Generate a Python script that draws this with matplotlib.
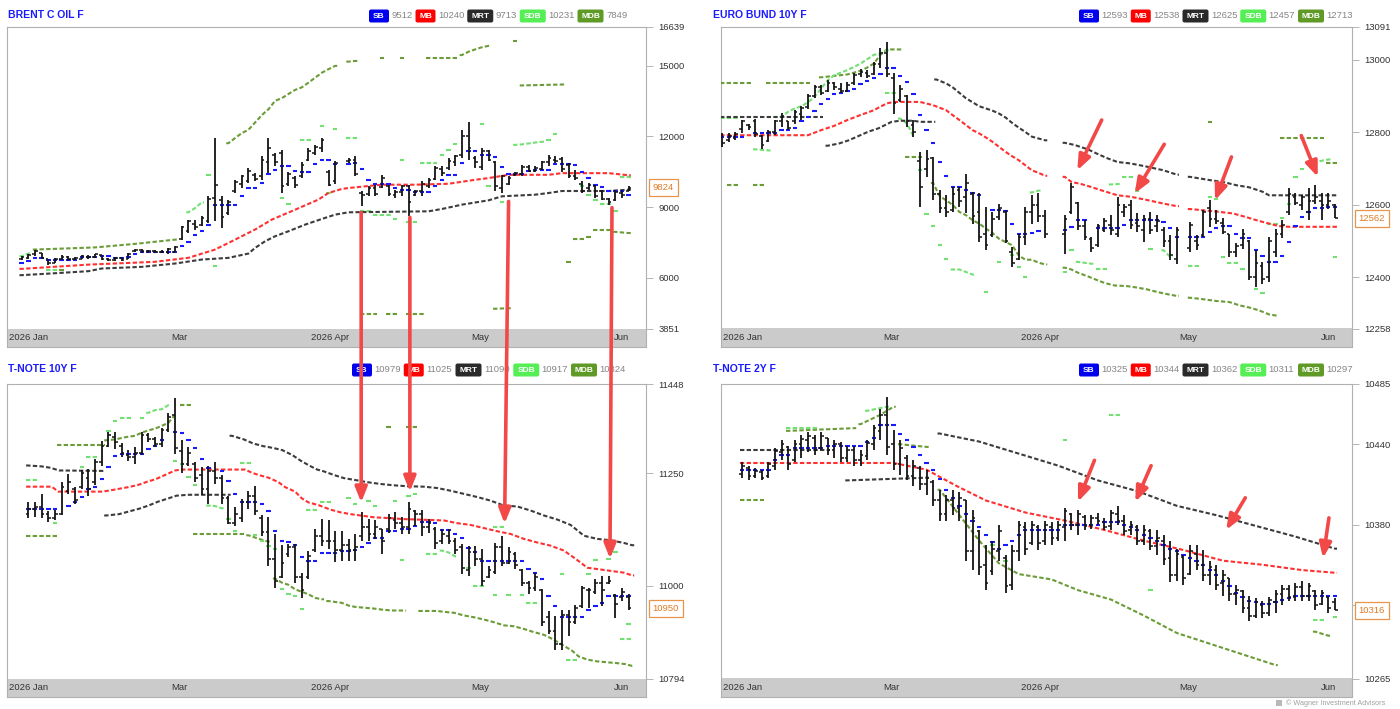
import numpy as np
import matplotlib.pyplot as plt
from matplotlib.patches import ConnectionPatch, FancyBboxPatch, Rectangle

nan = np.nan

months = ["2026 Jan", "Mar", "2026 Apr", "May", "Jun"]
month_slots = [1.1, 23.7, 46.2, 68.7, 90.0]
legend_names = ["SB", "MB", "MRT", "SDB", "MDB"]

# ---------------- BRENT C OIL F (slots 0..91) ----------------
brent_open = [6800, 6850, 7000, 7050, 6780, 6650, 6800, 6900, 6780, 6820,
              6900, 6880, 6950, 6800, 6760, 6850, 6800, 7120, 7180, 7120,
              7150, 7100, 7080, 7100, 7650, 8000, 8300, 8250, 8400, 9400,
              9300, 8750, 9700, 10000, 10100, 10350, 10300, 10900, 11200, 11300,
              10000, 10250, 10300, 11000, 11300, 11500, 10500, 10100, nan, 10950,
              11000, 9600, 9550, 9800, 9850, 9900, 9500, 9650, 9900, 9500,
              9700, 9900, 10200, 10600, 10650, 10900, 11200, 12000, 11100, 10700,
              11400, 10900, 9800, 10000, 10350, 10400, 10700, 10550, 10600, 10900,
              11000, 11050, 10800, 10300, 10000, 9800, 9900, 9700, 9350, 9300,
              9600, 9700]
brent_high = [6920, 7030, 7200, 7060, 6800, 6850, 6950, 6920, 6890, 6950,
              6970, 7030, 6970, 6860, 6890, 6890, 7060, 7230, 7230, 7200,
              7200, 7200, 7270, 7340, 8190, 8470, 8470, 8610, 9460, 11930,
              9460, 9310, 10160, 10370, 10660, 10440, 11150, 11930, 11290, 11430,
              10510, 10300, 10900, 11500, 11640, 11930, 10590, 10940, nan, 11080,
              11150, 9670, 9880, 9950, 10370, 9950, 9710, 9950, 9950, 9740,
              10090, 10230, 10730, 10730, 11080, 11220, 12280, 12630, 11150, 11500,
              11430, 10940, 10370, 10300, 10510, 10800, 10800, 10730, 10940, 11220,
              11150, 11110, 10870, 10590, 10090, 10020, 9950, 9740, 9390, 9740,
              9740, 9880]
brent_low = [6750, 6780, 6920, 6780, 6560, 6630, 6750, 6700, 6750, 6780,
             6800, 6830, 6750, 6710, 6710, 6710, 6780, 7090, 7060, 7060,
             7060, 7050, 7030, 7090, 7620, 7900, 8050, 8190, 8330, 8400,
             8120, 8680, 9600, 9810, 10020, 10090, 10160, 10440, 10730, 9600,
             9880, 9810, 10230, 10940, 11220, 11320, 9880, 9990, nan, 10870,
             10300, 9040, 9460, 9460, 9810, 9460, 9390, 9460, 8610, 9460,
             9460, 9810, 10160, 10300, 10590, 10730, 11080, 11010, 10660, 10590,
             10940, 9670, 9600, 9950, 10300, 10300, 10510, 10510, 10590, 10730,
             10870, 10510, 10230, 10160, 9600, 9740, 9390, 9290, 9100, 9250,
             9390, 9670]
brent_close = [6880, 6980, 7120, 6850, 6620, 6820, 6900, 6780, 6850, 6920,
               6880, 6990, 6800, 6760, 6850, 6760, 7020, 7180, 7120, 7150,
               7100, 7090, 7230, 7300, 8150, 8400, 8150, 8550, 9350, 9950,
               8600, 9200, 10050, 10300, 10550, 10200, 11000, 11500, 10900, 9900,
               10400, 9950, 10800, 11400, 11550, 11850, 9950, 10850, nan, 11000,
               10400, 9500, 9800, 9550, 10250, 9550, 9650, 9900, 9200, 9700,
               10000, 10150, 10650, 10450, 10950, 11150, 12000, 11500, 10900, 11400,
               11000, 9900, 10300, 10250, 10450, 10700, 10550, 10650, 10900, 11100,
               10950, 10600, 10300, 10250, 9700, 9950, 9450, 9350, 9200, 9650,
               9500, 9824]
brent_sb = [6635, 6734, 6847, 6847, 6776, 6776, 6776, 6776, 6776, 6889,
            6889, 6889, 6917, 6917, 6847, 6847, 6875, 7030, 7087, 7087,
            7087, 7087, 7087, 7087, 7340, 7538, 7835, 8004, 8258, 9104,
            9104, 9104, 9104, 9457, 9810, 9810, 10021, 10417, 10586, 10755,
            10755, 10544, 10487, 10487, 10826, 11009, 11009, 10840, nan, 10840,
            10868, 10614, 10162, 9993, 9993, 9993, 9810, 9711, 9711, 9626,
            9626, 9626, 9880, 10162, 10346, 10346, 10868, 11362, 11362, 11221,
            11221, 11122, 10685, 10417, 10417, 10417, 10515, 10586, 10586, 10586,
            10840, 10840, 10840, 10769, 10473, 10233, 9951, 9852, 9697, 9697,
            9697, 9527]
brent_mb = [[(0, 6380), (10, 6560), (20, 6680), (25, 6850), (29, 7200), (32, 7620),
             (35, 8050), (37.5, 8470), (41, 8890), (44.5, 9320), (46, 9600), (48, 9770),
             (49, 9810), (54, 9950), (59, 9950), (64, 9990), (68, 10160), (70, 10230),
             (73, 10370), (79, 10370), (81, 10440), (88, 10440), (91, 10350)]]
brent_mrt = [[(0, 6113), (6, 6212), (10, 6282), (12, 6395), (18, 6466), (23, 6607),
              (27, 6776), (31, 6847), (34, 7030), (35, 7270), (36.5, 7552), (38, 7764),
              (40, 7976), (42.5, 8258), (45, 8497), (47, 8681), (49, 8780), (61, 8822),
              (63, 8920), (66, 9104), (70, 9288), (72, 9457), (77, 9527), (79, 9598),
              (81, 9683), (88, 9683), (91, 9739)]]
brent_sdb = [[(0, 6920), (1, 7030)], [(4, 6350), (5, 6350)],
             [(25, 8780), (26, 8960), (27, 9200)], [(28, 10370)], [(29, 6520)],
             [(39, 9390)], [(40, 9150)], [(42, 11860), (43, 11860)],
             [(45, 12450)], [(46, 9600)], [(47, 12310)],
             [(49, 11920), (50, 11920)], [(51, 8820), (52, 8820)],
             [(53, 8650), (54, 8650), (55, 8650)], [(56, 8500)], [(57, 11010)],
             [(58, 8360), (59, 8360)], [(60, 10870), (61, 10870), (62, 10870)],
             [(63, 11190)], [(64, 11430)], [(65, 11690)],
             [(69, 12530)], [(70, 9910)], [(72, 9220)],
             [(74, 11640), (75, 11660), (76, 11700), (77, 11740), (78, 11770)],
             [(79, 11860)], [(80, 12110)],
             [(84, 9880)], [(85, 9500)], [(86, 9320)], [(87, 9150), (88, 9150)],
             [(89, 8820)], [(90, 10260), (91, 10260)]]
brent_mdb = [[(2, 7200), (11, 7290), (17, 7440), (23, 7620)], [(6, 6320)],
             [(31, 11710), (32, 11930), (33, 12140), (34, 12280), (35, 12590),
              (36, 12900), (37, 13150), (38, 13510), (39, 13620), (40, 13800),
              (41, 13970), (42, 14080), (43, 14280), (44, 14490), (45, 14700),
              (46, 14850), (47, 14990)],
             [(49, 15170), (50, 15200)], [(54, 15310)], [(57, 15310)],
             [(61, 15310), (65, 15310)],
             [(66, 15450), (67, 15590), (68, 15690), (69, 15780), (70, 15840)],
             [(74, 16060)], [(75, 14160), (81, 14200)],
             [(51, 4480), (53, 4480)], [(55, 4480), (56, 4480)], [(58, 4480), (60, 4480)],
             [(71, 4690), (73, 4710)], [(82, 6680)], [(83, 7650), (84, 7650)],
             [(85, 7750)], [(86, 8020), (88, 8020)], [(89, 7950), (91, 7900)]]
brent_ticks = [3851, 6000, 9000, 12000, 15000, 16639]
brent_legend = ["9512", "10240", "9713", "10231", "7849"]

# ---------------- EURO BUND 10Y F (slots -2..91) ----------------
bund_open = [12790, 12780, 12785, 12810, 12820, 12830, 12790, 12775, 12800, 12830,
             12830, 12830, 12850, 12870, 12900, 12925, 12915, 12935, 12920, 12915,
             12935, 12960, 12965, 12960, 12990, 13020, 12950, 12890, 12900, 12820,
             12720, 12700, 12730, 12630, 12590, 12585, 12640, 12620, 12630, 12580,
             12520, 12515, 12565, 12580, 12470, 12450, 12510, 12580, 12600, 12570,
             nan, nan, 12520, 12580, 12605, 12540, 12505, 12490, 12530, 12545,
             12520, 12580, 12600, 12550, 12530, 12560, 12540, 12530, 12500, 12450,
             nan, 12480, 12500, 12515, 12590, 12560, 12550, 12520, 12470, 12490,
             12500, 12400, 12430, 12400, 12470, 12520, 12580, 12620, 12600, 12580,
             12610, 12610, 12600, 12600]
bund_high = [12797, 12797, 12802, 12834, 12824, 12836, 12792, 12806, 12834, 12854,
             12832, 12861, 12872, 12906, 12931, 12931, 12944, 12940, 12935, 12940,
             12963, 12974, 12972, 12995, 13032, 13050, 12963, 12931, 12903, 12834,
             12746, 12751, 12732, 12640, 12626, 12649, 12649, 12684, 12635, 12631,
             12594, 12580, 12603, 12585, 12483, 12520, 12594, 12626, 12631, 12585,
             nan, nan, 12571, 12659, 12608, 12557, 12511, 12548, 12562, 12571,
             12622, 12603, 12613, 12576, 12571, 12580, 12571, 12539, 12516, 12539,
             nan, 12553, 12516, 12585, 12613, 12585, 12562, 12520, 12493, 12534,
             12502, 12474, 12442, 12511, 12534, 12557, 12645, 12631, 12626, 12645,
             12654, 12631, 12631, 12603]
bund_low = [12760, 12774, 12779, 12797, 12806, 12788, 12755, 12774, 12792, 12815,
            12806, 12824, 12834, 12864, 12894, 12903, 12912, 12917, 12908, 12912,
            12931, 12953, 12949, 12958, 12977, 12954, 12852, 12885, 12815, 12788,
            12594, 12677, 12612, 12576, 12566, 12580, 12594, 12576, 12548, 12497,
            12474, 12511, 12557, 12493, 12428, 12447, 12488, 12548, 12553, 12507,
            nan, nan, 12465, 12575, 12530, 12502, 12470, 12483, 12525, 12516,
            12511, 12566, 12534, 12525, 12497, 12520, 12525, 12483, 12447, 12437,
            nan, 12470, 12474, 12511, 12539, 12548, 12520, 12456, 12456, 12479,
            12391, 12373, 12382, 12387, 12456, 12507, 12571, 12599, 12585, 12557,
            12603, 12557, 12589, 12562]
bund_close = [12770, 12790, 12795, 12830, 12815, 12795, 12765, 12800, 12830, 12845,
              12812, 12855, 12868, 12900, 12925, 12910, 12935, 12925, 12915, 12930,
              12958, 12968, 12955, 12990, 13020, 12960, 12880, 12920, 12830, 12800,
              12650, 12725, 12630, 12590, 12580, 12630, 12610, 12660, 12570, 12510,
              12490, 12560, 12590, 12500, 12440, 12510, 12580, 12600, 12570, 12520,
              nan, nan, 12560, 12650, 12540, 12510, 12480, 12540, 12555, 12530,
              12600, 12595, 12545, 12540, 12560, 12530, 12555, 12500, 12460, 12530,
              nan, 12545, 12490, 12580, 12560, 12555, 12525, 12470, 12485, 12520,
              12400, 12440, 12395, 12500, 12520, 12545, 12630, 12605, 12620, 12610,
              12620, 12600, 12610, 12562]
bund_sb = [12788, 12788, 12788, 12788, nan, 12799, 12799, 12797, 12797, 12806,
           12806, 12811, 12832, 12841, 12860, 12878, 12892, 12905, 12909, 12914,
           12921, 12933, 12943, 12949, 12960, 12977, 12977, 12955, 12938, 12905,
           12848, 12806, 12771, 12719, 12679, 12649, 12649, 12642, 12631, 12628,
           nan, 12585, 12585, 12582, 12546, 12518, 12518, 12522, 12527, nan,
           nan, nan, 12530, 12539, 12557, 12557, nan, 12537, 12537, 12537,
           12537, 12543, 12557, 12557, 12557, 12557, 12557, 12553, 12536, 12511,
           nan, 12511, 12511, 12511, 12525, 12537, 12540, 12540, 12520, 12508,
           12507, 12474, 12459, 12442, 12442, 12458, 12497, 12540, 12566, 12580,
           12592, 12592, 12594, 12594]
bund_mb = [[(-2, 12792), (11, 12792), (13, 12806), (15, 12818), (17, 12834), (19, 12848),
            (21, 12861), (22, 12871), (23, 12880), (24, 12884), (28, 12884), (30, 12875),
            (32, 12861), (33, 12847), (34, 12834), (35, 12820), (36, 12806), (37, 12797),
            (38, 12786), (39, 12774), (40, 12760), (41, 12746), (42, 12734), (43, 12723),
            (44, 12709), (45, 12695), (46, 12688), (47, 12680)],
           [(50, 12677), (51, 12663), (52.5, 12657), (54, 12649), (55.5, 12640), (58, 12626),
            (60, 12622), (62.5, 12613), (65, 12603), (67, 12596)],
           [(69, 12588), (72, 12583), (73.5, 12580), (75.5, 12576), (77.5, 12566),
            (79.5, 12555), (81, 12548), (82.5, 12541), (84, 12539), (91, 12539)]]
bund_mrt = [[(-2, 12843), (13, 12843)],
            [(14, 12763), (15.7, 12769), (17.2, 12778), (18.7, 12790), (20.2, 12802),
             (21.7, 12811), (22.7, 12820), (23.7, 12829), (25, 12832), (27, 12832),
             (28, 12829), (30, 12829)],
            [(30.5, 12946), (32, 12935), (33, 12924), (34, 12909), (35, 12894), (36, 12883),
             (37, 12872), (38, 12866), (39, 12860), (40, 12852), (41, 12841), (42, 12826),
             (43, 12813), (44, 12801), (45, 12788), (46, 12783), (47, 12778)],
            [(50, 12771), (51.5, 12765), (53.5, 12753), (55, 12740), (56.5, 12728), (58, 12718),
             (60, 12714), (62.5, 12705), (65, 12695), (67, 12683)],
            [(69, 12677), (72, 12668), (74, 12663), (76, 12654), (78, 12648), (80, 12636),
             (81, 12626), (91, 12626)]]
bund_sdb = [[(-2, 12840), (0, 12840)], [(3, 12753), (5, 12750)],
            [(7, 12843), (8, 12857), (9, 12866), (10, 12872), (11, 12883), (12, 12898),
             (13, 12921), (14, 12944), (15, 12958), (17, 12972), (18, 12981), (19, 12990),
             (20, 13002), (21, 13014), (22, 13018), (23, 13027)],
            [(23, 12909), (24, 12909)], [(25, 12838), (26, 12825), (27, 12790)],
            [(28, 12697)], [(29, 12574)], [(30, 12541)], [(31, 12488)], [(32, 12449)],
            [(33, 12421), (34, 12421), (35, 12414), (36, 12407)],
            [(38, 12359)], [(40, 12442)], [(42, 12462)], [(43, 12428)], [(44, 12400)],
            [(45, 12634), (46, 12639)],
            [(50, 12414)], [(51, 12474)], [(52, 12442), (54, 12437)], [(55, 12423), (56, 12423)],
            [(57, 12656), (58, 12657)], [(59, 12677), (60, 12677)], [(61, 12638)],
            [(63, 12479)], [(65, 12474), (66, 12456)],
            [(69, 12432), (70, 12432)], [(72, 12622)], [(73, 12617)],
            [(74, 12456)], [(75, 12438), (76, 12438)], [(77, 12423)],
            [(79, 12368)], [(80, 12355)],
            [(81, 12548), (82, 12548)], [(83, 12562)], [(84, 12603)], [(85, 12677)],
            [(86, 12700)], [(88, 12718), (90, 12725)], [(91, 12456)]]
bund_mdb = [[(-2, 12935), (2, 12935)], [(5, 12935), (11, 12935)],
            [(13, 12952), (15, 12956), (17, 12960), (18, 12965), (19, 12970), (20, 12979),
             (21, 12990), (22, 13014), (23, 13029), (25, 13029)],
            [(-1, 12654), (0, 12654)], [(3, 12654), (4, 12654)],
            [(26, 12732), (28, 12732)],
            [(30, 12660), (31, 12624), (32, 12612), (33, 12599), (34, 12580), (35, 12571),
             (36, 12557), (37, 12548), (38, 12534), (39, 12522), (40, 12506), (41, 12497),
             (42, 12488), (43, 12460), (44, 12448), (45, 12448), (46, 12440), (47, 12435)],
            [(50, 12426), (51, 12421), (52, 12412), (53.5, 12402), (55, 12391), (56, 12384),
             (57.5, 12377), (59.5, 12375), (61, 12371), (62.5, 12366), (64, 12359),
             (65.5, 12353), (67, 12348)],
            [(69, 12343), (70.5, 12340), (73, 12334), (75, 12331), (76.5, 12322), (78, 12316),
             (79.5, 12308), (81, 12297), (82, 12294)],
            [(72, 12829)], [(83, 12783), (89, 12783)], [(90, 12714), (91, 12714)]]
bund_ticks = [12258, 12400, 12600, 12800, 13000, 13091]
bund_legend = ["12593", "12538", "12625", "12457", "12713"]

# ---------------- T-NOTE 10Y F (slots 0..91) ----------------
tn10_open = [nan, 11160, 11170, 11175, 11160, 11150, 11160, 11210, 11215, 11220,
             11240, 11230, 11275, 11310, 11330, 11310, 11290, 11285, 11295, 11335,
             11325, 11315, 11345, 11380, 11300, 11270, 11270, 11245, 11215, 11255,
             11240, 11195, 11140, 11150, 11185, 11200, 11150, 11120, 11060, 11020,
             11070, 11085, 11020, 11020, 11080, 11110, 11100, 11100, 11080, 11090,
             11080, 11110, 11130, 11115, 11125, 11125, 11145, 11140, 11130, 11165,
             11160, 11130, 11125, 11100, 11110, 11100, 11085, 11035, 11075, 11060,
             11020, 11030, 11085, 11050, 11070, 11035, 11005, 10995, 10990, 10930,
             10900, 10870, 10935, 10920, 10955, 10990, 10985, 11005, 11005, 10980,
             10975, 10975]
tn10_high = [nan, 11185, 11185, 11204, 11167, 11169, 11230, 11249, 11219, 11256,
             11260, 11282, 11321, 11342, 11342, 11316, 11302, 11308, 11342, 11340,
             11331, 11351, 11383, 11418, 11323, 11307, 11275, 11264, 11267, 11275,
             11245, 11200, 11174, 11193, 11211, 11221, 11156, 11152, 11115, 11090,
             11092, 11092, 11029, 11078, 11126, 11148, 11145, 11122, 11122, 11104,
             11115, 11163, 11148, 11145, 11126, 11159, 11163, 11152, 11185, 11169,
             11169, 11148, 11130, 11126, 11126, 11107, 11092, 11089, 11089, 11081,
             11044, 11096, 11111, 11085, 11074, 11037, 11011, 11029, 10992, 10944,
             10932, 10947, 10946, 10958, 11000, 10996, 11014, 11022, 11022, 10981,
             10996, 10981]
tn10_low = [nan, 11150, 11152, 11150, 11141, 11146, 11157, 11204, 11182, 11215,
            11200, 11223, 11266, 11308, 11304, 11286, 11276, 11271, 11290, 11319,
            11308, 11308, 11342, 11293, 11251, 11267, 11230, 11202, 11182, 11226,
            11182, 11137, 11133, 11141, 11171, 11156, 11111, 11044, 10996, 11018,
            11063, 11007, 10973, 11014, 11074, 11089, 11081, 11052, 11055, 11055,
            11055, 11100, 11100, 11104, 11070, 11118, 11126, 11115, 11115, 11133,
            11111, 11118, 11081, 11092, 11092, 11070, 11025, 11022, 11044, 11000,
            11018, 11025, 11044, 11048, 11037, 11000, 10981, 10988, 10910, 10892,
            10858, 10858, 10888, 10914, 10951, 10951, 10981, 10955, 11003, 10929,
            10966, 10946]
tn10_close = [nan, 11170, 11175, 11160, 11150, 11160, 11220, 11230, 11190, 11250,
              11215, 11275, 11310, 11335, 11320, 11295, 11285, 11295, 11335, 11325,
              11315, 11345, 11375, 11305, 11270, 11295, 11240, 11215, 11255, 11240,
              11195, 11140, 11160, 11185, 11200, 11165, 11120, 11060, 11010, 11050,
              11085, 11020, 10990, 11065, 11110, 11100, 11100, 11080, 11090, 11080,
              11085, 11130, 11115, 11130, 11100, 11150, 11140, 11130, 11170, 11160,
              11130, 11140, 11095, 11115, 11100, 11080, 11040, 11075, 11060, 11010,
              11035, 11085, 11050, 11075, 11045, 11005, 10995, 11020, 10920, 10900,
              10870, 10935, 10920, 10950, 10995, 10990, 11005, 10990, 11010, 10960,
              10985, 10950]
tn10_sb = [nan, 11171, 11171, 11171, 11171, 11171, nan, 11178, 11187, 11196,
           11215, 11219, 11236, 11264, 11287, 11292, 11293, 11293, 11293, 11304,
           11310, 11323, nan, 11342, 11340, 11323, 11306, 11281, 11261, nan,
           11254, 11232, 11204, 11186, 11186, 11186, 11182, 11166, 11122, 11100,
           11098, 11090, 11063, 11055, 11055, 11072, 11072, 11072, 11078, 11078,
           11080, 11087, 11096, 11106, 11106, 11121, 11121, 11126, 11127, 11133,
           11141, 11141, 11139, 11124, 11124, 11116, 11107, 11083, 11074, 11055,
           11055, 11055, 11055, 11055, 11055, 11055, 11038, 11029, 11014, 10977,
           10956, 10930, 10930, 10930, 10930, 10946, 10955, 10962, 10977, 10977,
           10977, 10977]
tn10_mb = [[(1, 11220), (4.5, 11220), (5.5, 11209), (12, 11209), (13, 11211), (14.5, 11215),
            (16, 11219), (17.5, 11224), (19, 11232), (20, 11236), (21.5, 11246), (23, 11256),
            (24, 11258), (33.5, 11258), (34.5, 11251), (35.5, 11246), (37, 11240),
            (38.5, 11230), (39.5, 11219), (41, 11209), (42, 11194), (43, 11185),
            (44.5, 11179), (46.3, 11169), (47.8, 11163), (49.3, 11159), (50.8, 11156),
            (52.8, 11152), (55.3, 11150), (57.3, 11148), (59.3, 11147), (63.3, 11145),
            (65.3, 11139), (67.3, 11135), (69.3, 11128), (71.3, 11121), (73.3, 11115),
            (75.3, 11104), (77.3, 11096), (79.3, 11089), (81.3, 11078), (83.3, 11057),
            (84.8, 11040), (86.3, 11037), (88.3, 11033), (90.3, 11029), (91.5, 11023)]]
tn10_mrt = [[(1, 11267), (3, 11265), (4.3, 11262), (5.6, 11256), (12.2, 11255)],
            [(12.7, 11156), (14.6, 11159), (16.1, 11165), (17.6, 11171), (19, 11178),
             (20.5, 11187), (22, 11194), (23.2, 11200), (25, 11202), (31, 11202)],
            [(31.5, 11333), (33.3, 11325), (34.7, 11316), (36.2, 11310), (37.7, 11306),
             (39.1, 11301), (40.6, 11290), (41.8, 11278), (43.1, 11267), (44.3, 11258),
             (45.3, 11254), (46.8, 11246), (48.3, 11239), (50.3, 11234), (51.8, 11230),
             (53.8, 11226), (55.8, 11223), (57.8, 11221), (60.3, 11220), (62.3, 11217),
             (64.3, 11211), (66.3, 11204), (68.3, 11197), (70.3, 11189), (72.3, 11178),
             (74.3, 11176), (76.3, 11167), (78.3, 11156), (80.3, 11147), (82.3, 11135),
             (84.3, 11111), (86.3, 11104), (88.3, 11101), (90.3, 11095), (91.5, 11090)]]
tn10_sdb = [[(1, 11234), (2, 11234)], [(5, 11139)], [(9, 11263)], [(10, 11286), (11, 11286)],
            [(13, 11343)], [(14, 11366)], [(15, 11373), (16, 11373)], [(18, 11373)],
            [(19, 11384), (20, 11390), (21, 11392), (22, 11401)],
            [(23, 11276)], [(24, 11270)], [(25, 11241)], [(26, 11224)],
            [(28, 11178), (29, 11177), (30, 11172)], [(31, 11148)], [(32, 11121)],
            [(33, 11273), (34, 11273)], [(35, 11113)], [(36, 11100)], [(37, 11089)],
            [(38, 11081)], [(39, 10993)], [(40, 10981)], [(41, 10977)], [(42, 10949)],
            [(43, 11169), (44, 11169)], [(45, 11185), (46, 11185)], [(49, 11194)],
            [(50, 11182)], [(52, 11189)], [(53, 11178)], [(56, 11189)], [(57, 11057)],
            [(58, 11200)], [(59, 11204)], [(61, 11070), (62, 11070)],
            [(63, 11078), (64, 11074), (65, 11065)], [(67, 11040)], [(68, 10999), (69, 10999)],
            [(71, 10979)], [(73, 10979)], [(75, 10979)], [(76, 10962), (77, 10962)],
            [(71, 11130), (72, 11130)], [(81, 11025)], [(85, 11025)], [(82, 10834), (83, 10834)],
            [(86, 11057)], [(88, 11059)], [(89, 11074)], [(90, 10882), (91, 10882)], [(91, 10914)]]
tn10_mdb = [[(1, 11111), (5, 11111)], [(5.6, 11313), (12.2, 11313)],
            [(12.7, 11323), (14, 11325), (15.6, 11330), (17, 11333), (18, 11340), (19, 11345),
             (20, 11349), (21, 11355), (22, 11362), (23, 11380)],
            [(24, 11401), (25, 11401)], [(26, 11116), (33, 11116)],
            [(34, 11112), (35, 11107), (36, 11102), (37, 11098)],
            [(38, 11016), (39, 11007), (40, 11002), (41, 10992), (43, 10981), (44, 10973), (45, 10970)],
            [(46, 10966), (48, 10962), (49, 10956), (50, 10953), (51.5, 10951), (53, 10949),
             (54, 10947), (55.5, 10945), (57.3, 10945)],
            [(59.8, 10944), (62.3, 10944), (63.3, 10942), (64.8, 10940), (66.3, 10934),
             (67.8, 10930), (69.3, 10925), (70.8, 10919), (72.3, 10912), (73.8, 10910),
             (75.3, 10904), (76.8, 10897), (78.3, 10891), (79.8, 10880), (81, 10869),
             (82.5, 10856), (83.5, 10843), (84.8, 10836), (86.3, 10832), (87.8, 10830),
             (89.3, 10828), (90.5, 10826), (91.5, 10822)],
            [(55, 11353)], [(58, 11353), (59, 11353)]]
tn10_ticks = [10794, 11000, 11250, 11448]
tn10_legend = ["10979", "11025", "11090", "10917", "10824"]

# ---------------- T-NOTE 2Y F (slots 0..91) ----------------
tn2_open = [nan, 10418, 10422, 10416, 10419, 10416, 10424, 10434, 10438, 10428,
            10440, 10443, 10445, 10437, 10445, 10436, 10440, 10430, 10436, 10428,
            10431, 10440, 10450, 10462, 10440, 10425, 10430, 10416, 10422, 10410,
            10412, 10398, 10388, 10398, 10392, 10398, 10360, 10375, 10350, 10345,
            10360, 10355, 10335, 10360, 10378, 10366, 10378, 10368, 10378, 10370,
            10378, 10388, 10380, 10386, 10380, 10385, 10382, 10379, 10388, 10383,
            10376, 10378, 10368, 10375, 10364, 10368, 10355, 10342, 10356, 10343,
            10358, 10350, 10342, 10346, 10336, 10340, 10328, 10330, 10318, 10312,
            10320, 10314, 10322, 10328, 10332, 10326, 10333, 10327, 10330, 10321,
            10326, 10322]
tn2_high = [nan, 10427, 10424, 10422, 10421, 10427, 10437, 10443, 10439, 10443,
            10447, 10449, 10447, 10449, 10445, 10443, 10442, 10439, 10439, 10436,
            10443, 10454, 10466, 10475, 10451, 10443, 10432, 10428, 10424, 10421,
            10413, 10406, 10402, 10406, 10404, 10398, 10391, 10376, 10365, 10368,
            10380, 10357, 10365, 10383, 10382, 10383, 10380, 10383, 10382, 10383,
            10392, 10389, 10391, 10387, 10387, 10389, 10385, 10391, 10394, 10387,
            10383, 10380, 10380, 10377, 10376, 10372, 10368, 10362, 10357, 10365,
            10365, 10361, 10353, 10350, 10346, 10340, 10335, 10331, 10327, 10325,
            10323, 10326, 10331, 10335, 10335, 10336, 10338, 10336, 10331, 10331,
            10327, 10325]
tn2_low = [nan, 10415, 10413, 10415, 10413, 10415, 10421, 10428, 10421, 10427,
           10430, 10434, 10432, 10436, 10432, 10430, 10427, 10427, 10424, 10424,
           10428, 10436, 10443, 10432, 10421, 10417, 10413, 10409, 10406, 10402,
           10394, 10383, 10383, 10387, 10383, 10353, 10346, 10342, 10331, 10342,
           10353, 10329, 10331, 10353, 10357, 10365, 10361, 10365, 10365, 10368,
           10368, 10376, 10372, 10376, 10377, 10380, 10376, 10376, 10380, 10372,
           10372, 10365, 10365, 10361, 10357, 10350, 10337, 10338, 10335, 10342,
           10346, 10338, 10335, 10331, 10327, 10323, 10320, 10314, 10308, 10310,
           10310, 10312, 10314, 10320, 10323, 10323, 10323, 10323, 10316, 10320,
           10314, 10316]
tn2_close = [nan, 10424, 10416, 10420, 10415, 10425, 10435, 10440, 10425, 10440,
             10444, 10446, 10436, 10446, 10436, 10440, 10430, 10436, 10428, 10432,
             10441, 10452, 10462, 10438, 10425, 10437, 10416, 10424, 10410, 10415,
             10398, 10388, 10398, 10392, 10400, 10360, 10385, 10348, 10336, 10362,
             10375, 10334, 10360, 10380, 10362, 10380, 10366, 10380, 10370, 10380,
             10390, 10380, 10388, 10379, 10385, 10383, 10378, 10389, 10383, 10375,
             10380, 10368, 10376, 10364, 10370, 10354, 10342, 10358, 10340, 10360,
             10350, 10342, 10348, 10335, 10342, 10328, 10331, 10318, 10312, 10322,
             10314, 10324, 10328, 10332, 10326, 10333, 10327, 10334, 10320, 10329,
             10318, 10316]
tn2_sb = [nan, 10421, 10421, 10421, 10421, 10421, 10428, 10432, 10432, 10437,
          10437, 10437, 10437, 10437, 10439, 10439, 10439, 10439, 10439, 10439,
          10442, 10445, 10454, 10454, 10454, 10448, 10443, 10438, 10432, 10426,
          10421, 10414, 10406, 10400, 10394, 10388, 10383, 10378, 10372, 10367,
          10362, 10365, 10368, 10372, 10376, 10376, 10376, 10376, 10376, 10376,
          10380, 10380, 10380, 10380, 10380, 10380, 10382, 10382, 10382, 10380,
          10378, 10376, 10372, 10370, 10368, 10365, 10362, 10360, 10357, 10355,
          10353, 10350, 10346, 10342, 10338, 10334, 10329, 10326, 10323, 10322,
          10321, 10321, 10322, 10324, 10325, 10327, 10327, 10327, 10327, 10327,
          10327, 10327]
tn2_mb = [[(1, 10426), (24, 10426), (29, 10421), (33.5, 10409), (38, 10398), (44, 10389),
           (50, 10383), (56, 10376), (62, 10368), (68, 10361), (74, 10353), (80, 10350),
           (86, 10346), (91, 10344)]]
tn2_mrt = [[(1, 10436), (14, 10436)], [(17, 10413), (29, 10415)],
           [(31, 10448), (37, 10442), (43, 10433), (49, 10424), (55, 10413), (61, 10405),
            (67, 10394), (73, 10387), (79, 10379), (85, 10371), (91, 10362)]]
tn2_sdb = [[(8, 10452), (12, 10452)], [(20, 10465), (23, 10468)], [(39, 10365)], [(41, 10353)],
           [(50, 10443)], [(57, 10462), (58, 10462)], [(63, 10331)], [(88, 10309), (89, 10309)],
           [(91, 10311)]]
tn2_mdb = [[(1, 10398), (4, 10398)], [(8, 10450), (18, 10452)],
           [(19, 10455), (22, 10462), (24, 10468)], [(25, 10440), (29, 10438)],
           [(31, 10406), (34, 10387), (37, 10368), (40, 10351), (43, 10343), (48, 10339),
            (52, 10331), (57, 10324), (62, 10312), (67, 10299), (72, 10291), (77, 10283),
            (82, 10275)],
           [(88, 10300), (90, 10297)]]
tn2_ticks = [10265, 10320, 10380, 10440, 10485]
tn2_legend = ["10325", "10344", "10362", "10311", "10297"]

# red arrow annotations: (slot, value) tail -> head
long_arrows = [(50.9, 8776, 50.9, 11185), (58.2, 8565, 58.2, 11209),
               (73.0, 9242, 72.4, 11138), (88.5, 8975, 88.2, 11060)]
bund_arrows = [(55.6, 12834, 51.9, 12695), (65.1, 12767, 60.6, 12631),
               (75.3, 12732, 72.8, 12612), (85.9, 12791, 88.4, 12677)]
tn2_arrows = [(54.5, 10428, 52.0, 10397), (63.1, 10424, 60.7, 10397),
              (77.4, 10400, 74.5, 10376), (90.1, 10385, 89.2, 10355)]

# ---------------- styling ----------------
SB_C, MB_C, MRT_C, SDB_C, MDB_C = '#1a1aff', '#ff3030', '#3c3c3c', '#72e072', '#6b9c38'
BADGE_C = ['#0000ee', '#ff0000', '#2a2a2a', '#55ee55', '#5f9a26']
BAR_C = '#141414'
ARROW_C = '#f24848'

plt.rcParams['font.family'] = ['Liberation Sans', 'DejaVu Sans']
W, H = 1400, 709
fig = plt.figure(figsize=(W / 100, H / 100), dpi=100)

panels = [
    dict(title="BRENT C OIL F", box=(7, 27, 646, 347), start=0, o=brent_open, h=brent_high,
         l=brent_low, c=brent_close, sb=brent_sb, mb=brent_mb, mrt=brent_mrt, sdb=brent_sdb,
         mdb=brent_mdb, ticks=brent_ticks, legend=brent_legend, lx=369, ly=16, tx=8),
    dict(title="EURO BUND 10Y F", box=(721, 27, 1352, 347), start=-2, o=bund_open, h=bund_high,
         l=bund_low, c=bund_close, sb=bund_sb, mb=bund_mb, mrt=bund_mrt, sdb=bund_sdb,
         mdb=bund_mdb, ticks=bund_ticks, legend=bund_legend, lx=1079, ly=16, tx=713),
    dict(title="T-NOTE 10Y F", box=(7, 384, 646, 697), start=0, o=tn10_open, h=tn10_high,
         l=tn10_low, c=tn10_close, sb=tn10_sb, mb=tn10_mb, mrt=tn10_mrt, sdb=tn10_sdb,
         mdb=tn10_mdb, ticks=tn10_ticks, legend=tn10_legend, lx=352, ly=370, tx=8),
    dict(title="T-NOTE 2Y F", box=(721, 384, 1352, 697), start=0, o=tn2_open, h=tn2_high,
         l=tn2_low, c=tn2_close, sb=tn2_sb, mb=tn2_mb, mrt=tn2_mrt, sdb=tn2_sdb,
         mdb=tn2_mdb, ticks=tn2_ticks, legend=tn2_legend, lx=1079, ly=370, tx=713),
]

BAND = 18.5


def draw_runs(ax, runs, color):
    for run in runs:
        xs = [p[0] for p in run]
        ys = [p[1] for p in run]
        if len(run) == 1:
            ax.hlines(ys[0], xs[0] - 0.33, xs[0] + 0.33, color=color, lw=1.5, zorder=3)
        else:
            ax.plot([xs[0] - 0.33] + xs + [xs[-1] + 0.33], [ys[0]] + ys + [ys[-1]],
                    color=color, lw=1.5, ls=(0, (2.1, 1.1)), zorder=3)


def draw_panel(p):
    l, t, r, b = p['box']
    ax = fig.add_axes([l / W, 1 - b / H, (r - l) / W, (b - t) / H])
    vmin, vmax = p['ticks'][0], p['ticks'][-1]
    data_px = b - t - BAND
    y0 = vmin - (vmax - vmin) * BAND / data_px
    ax.set_xlim(-2.2, 93.6)
    ax.set_ylim(y0, vmax)
    ax.axhspan(y0, vmin, color='#cbcbcb', lw=0, zorder=0)
    for s, m in zip(month_slots, months):
        ax.text(s, (y0 + vmin) / 2, m, ha='center', va='center', fontsize=6.8, color='#333333')

    x = np.arange(len(p['o'])) + p['start']
    o, h, lo, c = [np.array(p[k], dtype=float) for k in ('o', 'h', 'l', 'c')]
    sb = np.array(p['sb'], dtype=float)

    draw_runs(ax, p['mdb'], MDB_C)
    draw_runs(ax, p['sdb'], SDB_C)
    draw_runs(ax, p['mrt'], MRT_C)
    draw_runs(ax, p['mb'], MB_C)
    ok = ~np.isnan(sb)
    ax.hlines(sb[ok], x[ok] - 0.33, x[ok] + 0.33, color=SB_C, lw=1.5, zorder=3)

    ok = ~np.isnan(h)
    ax.vlines(x[ok], lo[ok], h[ok], color=BAR_C, lw=1.3, zorder=4)
    ax.hlines(o[ok], x[ok] - 0.4, x[ok], color=BAR_C, lw=1.1, zorder=4)
    ax.hlines(c[ok], x[ok], x[ok] + 0.4, color=BAR_C, lw=1.1, zorder=4)

    last = c[ok][-1]
    # the last-price box covers any tick label lying right under it
    hide = (vmax - vmin) * 9 / data_px
    ax.yaxis.tick_right()
    ax.set_yticks(p['ticks'])
    ax.set_yticklabels(['' if abs(v - last) < hide else str(v) for v in p['ticks']])
    ax.set_xticks([])
    ax.tick_params(axis='y', length=5, width=0.6, color='#aaaaaa', labelsize=6.8,
                   labelcolor='#333333', pad=4)
    for sp in ax.spines.values():
        sp.set_color('#b0b0b0')
        sp.set_linewidth(0.8)

    ax.text(1.0 + 6.5 / (r - l), last, f"{last:.0f}", transform=ax.get_yaxis_transform(),
            ha='left', va='center', fontsize=6.8, color='#e07a25', zorder=10, clip_on=False,
            bbox=dict(boxstyle='square,pad=0.4', fc='white', ec='#e8944a', lw=0.9))
    return ax


axes = [draw_panel(p) for p in panels]

# overlay in pixel coordinates for titles / legends / watermark
ov = fig.add_axes([0, 0, 1, 1], facecolor='none', zorder=5)
ov.set_xlim(0, W)
ov.set_ylim(H, 0)
ov.axis('off')

for p in panels:
    ov.text(p['tx'], p['ly'] - 0.5, p['title'], color='#1a1aff', fontsize=7.5,
            fontweight='bold', ha='left', va='center')
    x = p['lx']
    for lab, col, val in zip(legend_names, BADGE_C, p['legend']):
        w = 8 + 6 * len(lab)
        ov.add_patch(FancyBboxPatch((x, p['ly'] - 6.5), w, 13,
                                    boxstyle='round,pad=0,rounding_size=2', fc=col, ec='none'))
        ov.text(x + w / 2, p['ly'], lab, color='white', fontsize=6, fontweight='bold',
                ha='center', va='center')
        x += w + 2.5
        ov.text(x, p['ly'], val, color='#858585', fontsize=6.8, ha='left', va='center')
        x += 5.25 * len(val) + 3

ov.add_patch(Rectangle((1276, 700), 6, 6, fc='#b8b8b8', ec='none'))
ov.text(1385, 703, "© Wagner Investment Advisors", color='#a0a0a0', fontsize=5.2,
        ha='right', va='center')

# arrows
astyle = '-|>,head_length=0.9,head_width=0.36'
for s0, v0, s1, v1 in long_arrows:
    con = ConnectionPatch(xyA=(s0, v0), coordsA='data', axesA=axes[0],
                          xyB=(s1, v1), coordsB='data', axesB=axes[2],
                          arrowstyle=astyle, mutation_scale=10, color=ARROW_C, lw=2.6,
                          shrinkA=0, shrinkB=0, zorder=10)
    fig.add_artist(con)
for ax, arrows in ((axes[1], bund_arrows), (axes[3], tn2_arrows)):
    for s0, v0, s1, v1 in arrows:
        ax.annotate('', xy=(s1, v1), xytext=(s0, v0),
                    arrowprops=dict(arrowstyle=astyle, mutation_scale=10, color=ARROW_C,
                                    lw=2.6, shrinkA=0, shrinkB=0), zorder=10)

fig.savefig('out.png', dpi=100)
